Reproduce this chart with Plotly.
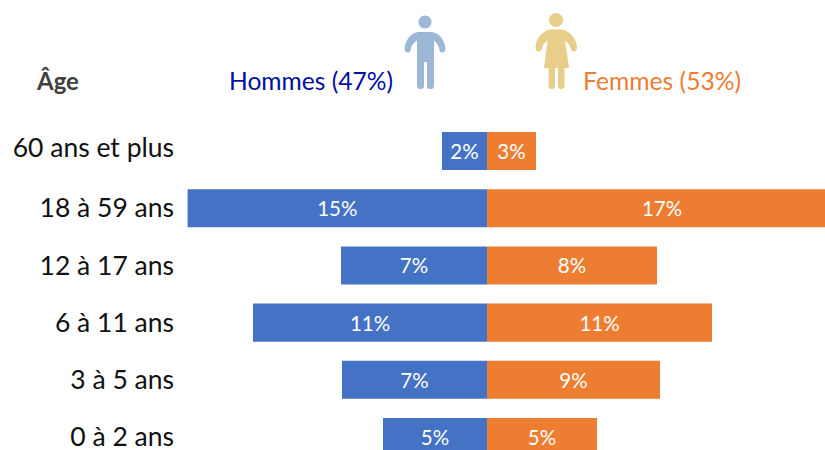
import plotly.graph_objects as go

categories = ["60 ans et plus", "18 à 59 ans", "12 à 17 ans", "6 à 11 ans", "3 à 5 ans", "0 à 2 ans"]
positions = [0, 1, 2, 3, 4, 5]
tick_positions = [-0.05, 1, 2, 3, 4, 5]
hommes = [2.25, 14.97, 7.3, 11.7, 7.25, 5.2]
femmes = [2.45, 17.5, 8.5, 11.25, 8.65, 5.5]
hommes_labels = ["2%", "15%", "7%", "11%", "7%", "5%"]
femmes_labels = ["3%", "17%", "8%", "11%", "9%", "5%"]

W, H, L = 825, 450, 187
FONT = "Lato"
MALE_ICON = "#9DB8D6"
FEMALE_ICON = "#E8CE88"


def px(x):
    return (x - L) / (W - L)


def py(y):
    return 1 - y / H


def abs_path(segments):
    out = []
    for cmd, pts in segments:
        out.append(cmd + " ".join(f"{x - L},{-y}" for x, y in pts))
    return " ".join(out) + " Z"


def circle(cx, cy, r):
    k = 0.5523 * r
    return abs_path([
        ("M", [(cx - r, cy)]),
        ("C", [(cx - r, cy - k), (cx - k, cy - r), (cx, cy - r)]),
        ("C", [(cx + k, cy - r), (cx + r, cy - k), (cx + r, cy)]),
        ("C", [(cx + r, cy + k), (cx + k, cy + r), (cx, cy + r)]),
        ("C", [(cx - k, cy + r), (cx - r, cy + k), (cx - r, cy)]),
    ])


def path_shape(path, color):
    return dict(type="path", xref="paper", yref="paper", xsizemode="pixel", ysizemode="pixel",
                xanchor=0, yanchor=1, path=path, fillcolor=color, line=dict(width=0), layer="above")


fig = go.Figure()
fig.add_bar(y=positions, x=[-v for v in hommes], orientation="h", marker=dict(color="#4472C4", line=dict(width=0)),
            text=hommes_labels, textposition="inside", insidetextanchor="middle", textangle=0,
            textfont=dict(color="white", size=20.5, family=FONT), width=0.665, showlegend=False)
fig.add_bar(y=positions, x=femmes, orientation="h", marker=dict(color="#ED7D31", line=dict(width=0)),
            text=femmes_labels, textposition="inside", insidetextanchor="middle", textangle=0,
            textfont=dict(color="white", size=20.5, family=FONT), width=0.665, showlegend=False)

male_body = abs_path([
    ("M", [(418, 32)]), ("L", [(432, 32)]),
    ("Q", [(443, 34), (445.5, 48)]), ("Q", [(445.5, 52.5), (442, 52.5)]), ("Q", [(439.5, 52.5), (439, 48)]),
    ("Q", [(437.5, 43), (434, 40.5)]), ("L", [(434, 86)]), ("Q", [(434, 89), (431, 89)]), ("L", [(430, 89)]),
    ("Q", [(427, 89), (427, 86)]), ("L", [(427, 62)]), ("L", [(424, 62)]), ("L", [(424, 86)]),
    ("Q", [(424, 89), (421, 89)]), ("L", [(420, 89)]), ("Q", [(417, 89), (417, 86)]), ("L", [(417, 40.5)]),
    ("Q", [(412.5, 43), (411, 48)]), ("Q", [(410.5, 52.5), (408, 52.5)]), ("Q", [(404.5, 52.5), (404.5, 48)]),
    ("Q", [(407, 34), (418, 32)]),
])
female_body = abs_path([
    ("M", [(550, 29.5)]), ("L", [(562, 29.5)]),
    ("Q", [(575, 33), (577, 47)]), ("Q", [(577, 51.5), (574, 51.5)]), ("Q", [(571.5, 51.5), (570.5, 48)]),
    ("Q", [(569, 43), (565, 40.5)]), ("L", [(569, 68)]), ("L", [(564.5, 68)]), ("L", [(564.5, 86)]),
    ("Q", [(564.5, 89), (561, 89)]), ("Q", [(558, 89), (558, 86)]), ("L", [(558, 68)]), ("L", [(555, 68)]),
    ("L", [(555, 86)]), ("Q", [(555, 89), (552, 89)]), ("Q", [(548.5, 89), (548.5, 86)]), ("L", [(548.5, 68)]),
    ("L", [(544, 68)]), ("L", [(547.5, 40.5)]), ("Q", [(543.5, 43), (542, 48)]), ("Q", [(541, 51.5), (539, 51.5)]),
    ("Q", [(535.5, 51.5), (535.5, 47)]), ("Q", [(537, 33), (550, 29.5)]),
])

shapes = [
    path_shape(circle(425, 22, 6.5), MALE_ICON),
    path_shape(male_body, MALE_ICON),
    path_shape(circle(556, 20, 7), FEMALE_ICON),
    path_shape(female_body, FEMALE_ICON),
]

annotations = [
    dict(text="<b>Âge</b>", x=px(57), y=py(81), font=dict(size=24, color="#404040", family=FONT)),
    dict(text="Hommes (47%)", x=px(310.5), y=py(81), font=dict(size=24.6, color="#00109E", family=FONT)),
    dict(text="Femmes (53%)", x=px(661.5), y=py(81), font=dict(size=24.7, color="#ED7D31", family=FONT)),
]
for a in annotations:
    a.update(xref="paper", yref="paper", showarrow=False, xanchor="center", yanchor="middle")

fig.update_layout(
    width=W, height=H, margin=dict(l=L, r=0, t=0, b=0, autoexpand=False),
    paper_bgcolor="white", plot_bgcolor="white", barmode="overlay", showlegend=False,
    shapes=shapes, annotations=annotations,
    xaxis=dict(range=[-15, 16.9], visible=False, fixedrange=True),
    yaxis=dict(range=[5.227, -2.64], tickmode="array", tickvals=tick_positions, ticktext=categories,
               showgrid=False, zeroline=False, showline=False, ticks="", ticklabelstandoff=12,
               ticklabeloverflow="allow", tickfont=dict(size=26.5, color="#111111", family=FONT), fixedrange=True),
)
fig.write_html("out.html", config={"displayModeBar": False},
               post_script="document.body.style.margin='0';document.documentElement.style.overflow='hidden';")
